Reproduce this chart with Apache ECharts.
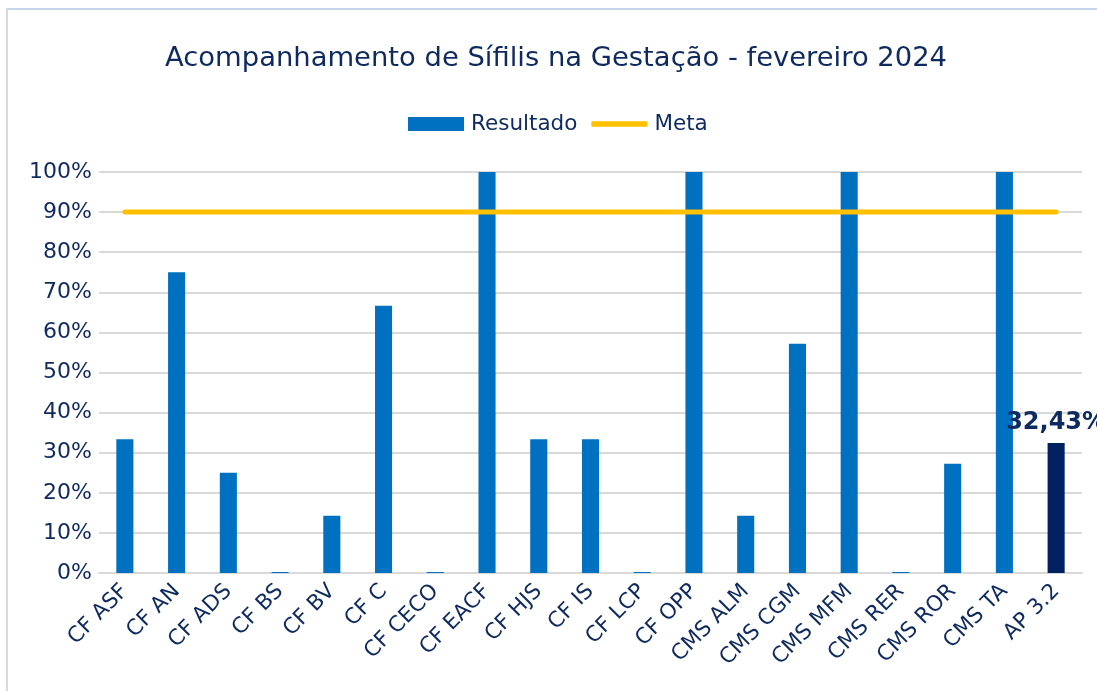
<!DOCTYPE html>
<html><head><meta charset="utf-8">
<script src="https://cdn.jsdelivr.net/npm/echarts@6/dist/echarts.min.js"></script>
<style>
html,body{margin:0;padding:0;background:#fff;}
#frame{position:absolute;left:6px;top:8px;width:1091px;height:683px;border-top:2px solid #c9d5ec;border-left:2px solid #d9d9d9;box-sizing:border-box;}
#c{position:absolute;left:0;top:0;width:1097px;height:691px;}
</style></head>
<body>
<div id="frame"></div>
<div id="c"></div>
<script>
const categories = ["CF ASF","CF AN","CF ADS","CF BS","CF BV","CF C","CF CECO","CF EACF","CF HJS","CF IS","CF LCP","CF OPP","CMS ALM","CMS CGM","CMS MFM","CMS RER","CMS ROR","CMS TA","AP 3.2"];
const resultado = [33.33,75,25,0,14.29,66.67,0,100,33.33,33.33,0,100,14.29,57.14,100,0,27.27,100,32.43];
const meta = [90,90,90,90,90,90,90,90,90,90,90,90,90,90,90,90,90,90,90];
const yTicks = [0,10,20,30,40,50,60,70,80,90,100];
const titleText = "Acompanhamento de Sífilis na Gestação - fevereiro 2024";

const navy = "#0e2a5e";
const font = "DejaVu Sans";
const chart = echarts.init(document.getElementById('c'));
const barData = resultado.map((v,i)=> i===resultado.length-1 ? {
  value:v, itemStyle:{color:"#002060"},
  label:{show:true,position:"top",distance:8,formatter:p=>p.value.toFixed(2).replace('.',',')+'%',
    color:"#0e2a5e",fontWeight:"bold",fontSize:24,fontFamily:font}
} : v);
chart.setOption({
  animation:false,
  title:{text:titleText,left:160,top:40,textStyle:{fontFamily:font,fontSize:27.4,fontWeight:"normal",color:navy}},
  legend:{top:108,left:403,itemGap:14,itemWidth:56,itemHeight:14,
    textStyle:{fontFamily:font,fontSize:21.5,color:navy,padding:[0,0,0,2]},
    data:[{name:"Resultado",icon:"rect"},{name:"Meta",icon:"path://M0,0 L10,0 L10,1 L0,1 Z"}]},
  grid:{left:99,right:15,top:172,bottom:118,containLabel:false},
  xAxis:{type:"category",data:categories,
    axisLine:{lineStyle:{color:"#d9d9d9",width:2}},axisTick:{show:false},
    axisLabel:{rotate:45,interval:0,fontFamily:font,fontSize:21.5,color:navy,margin:15}},
  yAxis:{type:"value",min:0,max:100,interval:10,
    axisLabel:{formatter:"{value}%",fontFamily:font,fontSize:22,color:navy,margin:7},
    splitLine:{lineStyle:{color:"#d9d9d9",width:2}},axisLine:{show:false},axisTick:{show:false}},
  series:[
    {name:"Resultado",type:"bar",data:barData,barWidth:"33%",barMinHeight:1,itemStyle:{color:"#0070c0"}},
    {name:"Meta",type:"line",data:meta,symbol:"none",lineStyle:{color:"#ffc000",width:5,cap:"round"},itemStyle:{color:"#ffc000"}}
  ]
});
</script>
</body></html>
